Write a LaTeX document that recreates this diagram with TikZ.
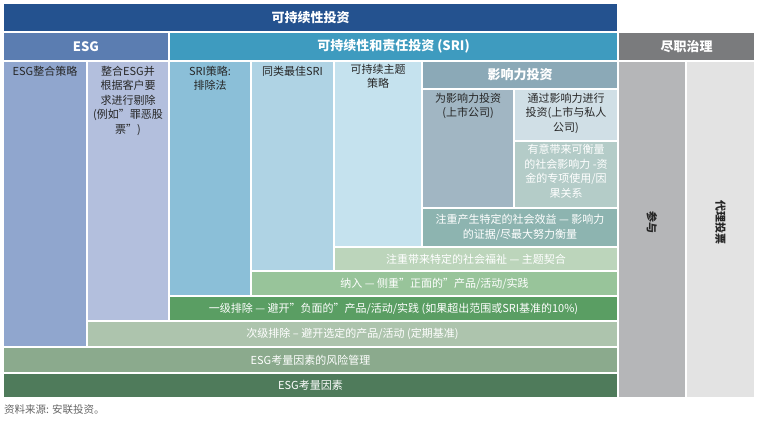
\documentclass[tikz,border=0pt]{standalone}
\usepackage{fontspec}
\setmainfont{Noto Sans CJK SC}
\begin{document}
\begin{tikzpicture}[x=1pt,y=-1pt,
  hd/.style={text=white,font=\bfseries\fontsize{13}{15}\selectfont,align=center},
  tx/.style={text=black!85,font=\fontsize{11}{14.5}\selectfont,align=center,inner sep=1pt},
  tw/.style={text=white,font=\fontsize{11}{14.5}\selectfont,align=center,inner sep=1pt},
  vt/.style={text=black!85,font=\bfseries\fontsize{11}{12}\selectfont,rotate=-90}]
\useasboundingbox (0,0) rectangle (760,424);
\definecolor{cTop}{HTML}{24528F}
\definecolor{cEsg}{HTML}{5B7DB1}
\definecolor{cSri}{HTML}{3E9BBF}
\definecolor{cGov}{HTML}{7A7B7D}
\definecolor{cC1}{HTML}{90A6CE}
\definecolor{cC2}{HTML}{B3BFDD}
\definecolor{cC3}{HTML}{8BBFD8}
\definecolor{cC4}{HTML}{AFD3E4}
\definecolor{cC5}{HTML}{C5E2EE}
\definecolor{cImp}{HTML}{8BA9B7}
\definecolor{cI1}{HTML}{A1B6C3}
\definecolor{cI2}{HTML}{D0DFE6}
\definecolor{cI3}{HTML}{B4CCC8}
\definecolor{cR1}{HTML}{8DB4B0}
\definecolor{cR2}{HTML}{BCD5BB}
\definecolor{cR3}{HTML}{98C49A}
\definecolor{cR4}{HTML}{5A9E63}
\definecolor{cR5}{HTML}{ADC4AD}
\definecolor{cR6}{HTML}{8BAA8D}
\definecolor{cR7}{HTML}{4F7B5B}
\definecolor{cG1}{HTML}{B5B6B8}
\definecolor{cG2}{HTML}{E3E3E3}
% fills
\fill[cTop] (4,4) rectangle (617,31);
\fill[cEsg] (4,33) rectangle (168,60);
\fill[cSri] (170,33) rectangle (617,60);
\fill[cGov] (619,33) rectangle (754,60);
\fill[cC1] (4,62) rectangle (86,346);
\fill[cC2] (88,62) rectangle (168,320);
\fill[cC3] (170,62) rectangle (250,295);
\fill[cC4] (252,62) rectangle (333,270);
\fill[cC5] (335,62) rectangle (421,246);
\fill[cImp] (423,62) rectangle (617,88);
\fill[cI1] (423,90) rectangle (513,207);
\fill[cI2] (515,90) rectangle (617,140);
\fill[cI3] (515,142) rectangle (617,207);
\fill[cR1] (423,209) rectangle (617,246);
\fill[cR2] (335,248) rectangle (617,270);
\fill[cR3] (252,272) rectangle (617,295);
\fill[cR4] (170,297) rectangle (617,320);
\fill[cR5] (88,322) rectangle (617,346);
\fill[cR6] (4,348) rectangle (617,372);
\fill[cR7] (4,374) rectangle (617,397);
\fill[cG1] (619,62) rectangle (685,397);
\fill[cG2] (687,62) rectangle (754,397);
% texts
\node[hd] (top) at (310.5,17.5) {可持续性投资};
\node[hd] (esg) at (86,46.5) {ESG};
\node[hd] (sri) at (393.5,46.5) {可持续性和责任投资 (SRI)};
\node[hd] (gov) at (686.5,46.5) {尽职治理};
\node[tx,anchor=north] (c1) at (45,65) {ESG整合策略};
\node[tx,anchor=north] (c2) at (128,65) {整合ESG并\\根据客户要\\求进行剔除\\(例如”罪恶股\\票”)};
\node[tx,anchor=north] (c3) at (210,65) {SRI策略:\\排除法};
\node[tx,anchor=north] (c4) at (292.5,65) {同类最佳SRI};
\node[tx,anchor=north] (c5) at (378,63) {可持续主题\\策略};
\node[hd] (imp) at (520,75) {影响力投资};
\node[tx,anchor=north] (i1) at (468,92) {为影响力投资\\(上市公司)};
\node[tx,anchor=north] (i2) at (566,92) {通过影响力进行\\投资(上市与私人\\公司)};
\node[tw,anchor=north] (i3) at (566,143) {有意带来可衡量\\的社会影响力 -资\\金的专项使用/因\\果关系};
\node[tw] (r1) at (520,227.5) {注重产生特定的社会效益 — 影响力\\的证据/尽最大努力衡量};
\node[tw] (r2) at (476,259) {注重带来特定的社会福祉 — 主题契合};
\node[tw] (r3) at (434.5,283.5) {纳入 — 侧重”正面的”产品/活动/实践};
\node[tw] (r4) at (393.5,308.5) {一级排除 — 避开”负面的”产品/活动/实践 (如果超出范围或SRI基准的10\%)};
\node[tw] (r5) at (352.5,334) {次级排除 – 避开选定的产品/活动 (定期基准)};
\node[tw] (r6) at (310.5,360) {ESG考量因素的风险管理};
\node[tw] (r7) at (310.5,385.5) {ESG考量因素};
\node[vt] (g1) at (652,222) {参与};
\node[vt] (g2) at (720.5,222) {代理投票};
\node[text=black!60,font=\fontsize{10.5}{12}\selectfont,anchor=west,inner sep=0pt] (src) at (4,410) {资料来源: 安联投资。};
\end{tikzpicture}
\end{document}
